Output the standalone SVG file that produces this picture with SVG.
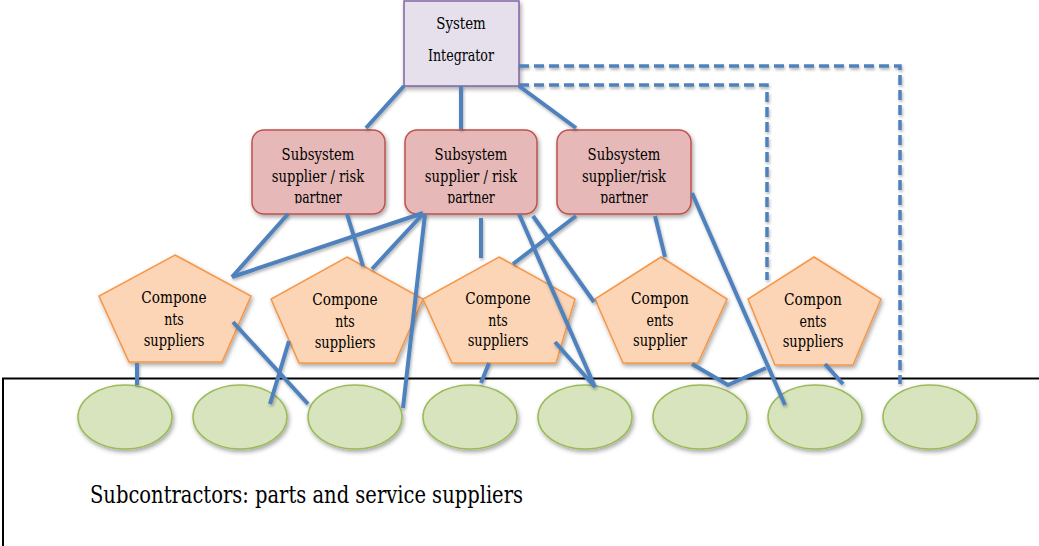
<svg xmlns="http://www.w3.org/2000/svg" width="1039" height="546" viewBox="0 0 1039 546">
<defs>
<filter id="sh" x="-20%" y="-20%" width="150%" height="160%">
<feDropShadow dx="1.5" dy="2.5" stdDeviation="2" flood-color="#000" flood-opacity="0.35"/>
</filter>
<filter id="lsh" x="-10%" y="-10%" width="130%" height="130%">
<feDropShadow dx="1" dy="2" stdDeviation="1.5" flood-color="#000" flood-opacity="0.3"/>
</filter>
<clipPath id="bc"><rect x="0" y="0" width="1039" height="203.5"/></clipPath>
</defs>
<style>
.t{font-family:"DejaVu Serif Condensed","DejaVu Serif","Liberation Serif",serif;font-size:16px;fill:#000;text-anchor:middle}
.cap{font-family:"DejaVu Serif Condensed","DejaVu Serif","Liberation Serif",serif;font-size:24px;fill:#000}
.si{fill:#e5e0ec;stroke:#8064a2;stroke-width:1.5}
.sub{fill:#e6b9b8;stroke:#c0504d;stroke-width:1.5}
.pent{fill:#fbd5b5;stroke:#f79646;stroke-width:1.5}
.ell{fill:#d7e4bd;stroke:#9bbb59;stroke-width:1.5}
.c{stroke:#4f81bd;stroke-width:4;fill:none}
.d{stroke:#4f81bd;stroke-width:3.5;fill:none;stroke-dasharray:10 5}
.frame{stroke:#000;stroke-width:2;fill:none}
</style>
<rect width="1039" height="546" fill="#fff"/>
<g id="frame"><path class="frame" d="M3,546 V378.5 H1039"/></g>

<g id="system-integrator">
<rect class="si" x="404" y="1" width="115" height="85" filter="url(#sh)"/>
<text class="t" x="461" y="29" textLength="49.5" lengthAdjust="spacingAndGlyphs">System</text>
<text class="t" x="461" y="61" textLength="66" lengthAdjust="spacingAndGlyphs">Integrator</text>
</g>

<g id="subsystem-1">
<rect class="sub" x="252" y="130" width="133" height="84" rx="12" filter="url(#sh)"/>
<g clip-path="url(#bc)"><text class="t" x="318" y="160" textLength="72.8" lengthAdjust="spacingAndGlyphs">Subsystem</text><text class="t" x="318" y="182" textLength="92.4" lengthAdjust="spacingAndGlyphs">supplier / risk</text><text class="t" x="318" y="203" textLength="47.6" lengthAdjust="spacingAndGlyphs">partner</text></g>
</g>
<g id="subsystem-2">
<rect class="sub" x="405" y="130" width="132" height="84" rx="12" filter="url(#sh)"/>
<g clip-path="url(#bc)"><text class="t" x="471" y="160" textLength="72.8" lengthAdjust="spacingAndGlyphs">Subsystem</text><text class="t" x="471" y="182" textLength="92.4" lengthAdjust="spacingAndGlyphs">supplier / risk</text><text class="t" x="471" y="203" textLength="47.6" lengthAdjust="spacingAndGlyphs">partner</text></g>
</g>
<g id="subsystem-3">
<rect class="sub" x="557" y="130" width="134" height="84" rx="12" filter="url(#sh)"/>
<g clip-path="url(#bc)"><text class="t" x="624" y="160" textLength="72.8" lengthAdjust="spacingAndGlyphs">Subsystem</text><text class="t" x="624" y="182" textLength="84" lengthAdjust="spacingAndGlyphs">supplier/risk</text><text class="t" x="624" y="203" textLength="47.6" lengthAdjust="spacingAndGlyphs">partner</text></g>
</g>

<g id="components-1">
<polygon class="pent" points="175,255 251,296 222,362 129,362 99,296" filter="url(#sh)"/>
<text class="t" x="174" y="303" textLength="65.3" lengthAdjust="spacingAndGlyphs">Compone</text><text class="t" x="174" y="325" textLength="19.6" lengthAdjust="spacingAndGlyphs">nts</text><text class="t" x="174" y="346" textLength="60.7" lengthAdjust="spacingAndGlyphs">suppliers</text>
</g>
<g id="components-2">
<polygon class="pent" points="347,257 423,299 395,363 299,363 271,299" filter="url(#sh)"/>
<text class="t" x="345" y="305" textLength="65.3" lengthAdjust="spacingAndGlyphs">Compone</text><text class="t" x="345" y="327" textLength="19.6" lengthAdjust="spacingAndGlyphs">nts</text><text class="t" x="345" y="348" textLength="60.7" lengthAdjust="spacingAndGlyphs">suppliers</text>
</g>
<g id="components-3">
<polygon class="pent" points="499,257 575,299 556,363 452,363 423,299" filter="url(#sh)"/>
<text class="t" x="498" y="304" textLength="65.3" lengthAdjust="spacingAndGlyphs">Compone</text><text class="t" x="498" y="326" textLength="19.6" lengthAdjust="spacingAndGlyphs">nts</text><text class="t" x="498" y="346" textLength="60.7" lengthAdjust="spacingAndGlyphs">suppliers</text>
</g>
<g id="components-4">
<polygon class="pent" points="661,257 727,299 698,363 623,363 595,299" filter="url(#sh)"/>
<text class="t" x="660" y="304" textLength="57.9" lengthAdjust="spacingAndGlyphs">Compon</text><text class="t" x="660" y="326" textLength="27.1" lengthAdjust="spacingAndGlyphs">ents</text><text class="t" x="660" y="346" textLength="54.1" lengthAdjust="spacingAndGlyphs">supplier</text>
</g>
<g id="components-5">
<polygon class="pent" points="814,257 881,299 853,365 775,365 748,299" filter="url(#sh)"/>
<text class="t" x="813" y="305" textLength="57.9" lengthAdjust="spacingAndGlyphs">Compon</text><text class="t" x="813" y="327" textLength="27.1" lengthAdjust="spacingAndGlyphs">ents</text><text class="t" x="813" y="347" textLength="60.7" lengthAdjust="spacingAndGlyphs">suppliers</text>
</g>

<g id="subcontractor-1"><ellipse class="ell" cx="125" cy="417" rx="47" ry="32" filter="url(#sh)"/></g>
<g id="subcontractor-2"><ellipse class="ell" cx="240" cy="417" rx="47" ry="32" filter="url(#sh)"/></g>
<g id="subcontractor-3"><ellipse class="ell" cx="355" cy="417" rx="47" ry="32" filter="url(#sh)"/></g>
<g id="subcontractor-4"><ellipse class="ell" cx="470" cy="417" rx="47" ry="32" filter="url(#sh)"/></g>
<g id="subcontractor-5"><ellipse class="ell" cx="585" cy="417" rx="47" ry="32" filter="url(#sh)"/></g>
<g id="subcontractor-6"><ellipse class="ell" cx="700" cy="417" rx="47" ry="32" filter="url(#sh)"/></g>
<g id="subcontractor-7"><ellipse class="ell" cx="815" cy="417" rx="47" ry="32" filter="url(#sh)"/></g>
<g id="subcontractor-8"><ellipse class="ell" cx="930" cy="417" rx="47" ry="32" filter="url(#sh)"/></g>

<g id="connectors" filter="url(#lsh)">
<path class="d" d="M519,66 H900 V384"/>
<path class="d" d="M519,85 H767 V280"/>
<line class="c" x1="404" y1="86" x2="366" y2="128"/>
<line class="c" x1="461" y1="86" x2="461" y2="129"/>
<line class="c" x1="519" y1="86" x2="576" y2="128"/>
<line class="c" x1="288" y1="214" x2="232" y2="277"/>
<line class="c" x1="347" y1="214" x2="363" y2="266"/>
<line class="c" x1="423" y1="213" x2="232" y2="277"/>
<line class="c" x1="422" y1="215" x2="372" y2="269"/>
<line class="c" x1="425" y1="214" x2="403" y2="408"/>
<line class="c" x1="481" y1="218" x2="481" y2="258"/>
<line class="c" x1="519" y1="214" x2="595" y2="387"/>
<line class="c" x1="533" y1="216" x2="594" y2="302"/>
<line class="c" x1="576" y1="216" x2="513" y2="264"/>
<line class="c" x1="655" y1="216" x2="665" y2="257"/>
<line class="c" x1="692" y1="193" x2="785" y2="405"/>
<line class="c" x1="137" y1="363" x2="137" y2="385"/>
<line class="c" x1="233" y1="322" x2="308" y2="404"/>
<line class="c" x1="289" y1="341" x2="270" y2="404"/>
<line class="c" x1="489" y1="363" x2="481" y2="383"/>
<line class="c" x1="555" y1="342" x2="595" y2="387"/>
<polyline class="c" points="692,364 728,385 766,368"/>
<line class="c" x1="825" y1="364" x2="843" y2="384"/>
</g>

<g id="caption"><text class="cap" x="90" y="503" textLength="433" lengthAdjust="spacingAndGlyphs">Subcontractors: parts and service suppliers</text></g>
</svg>
